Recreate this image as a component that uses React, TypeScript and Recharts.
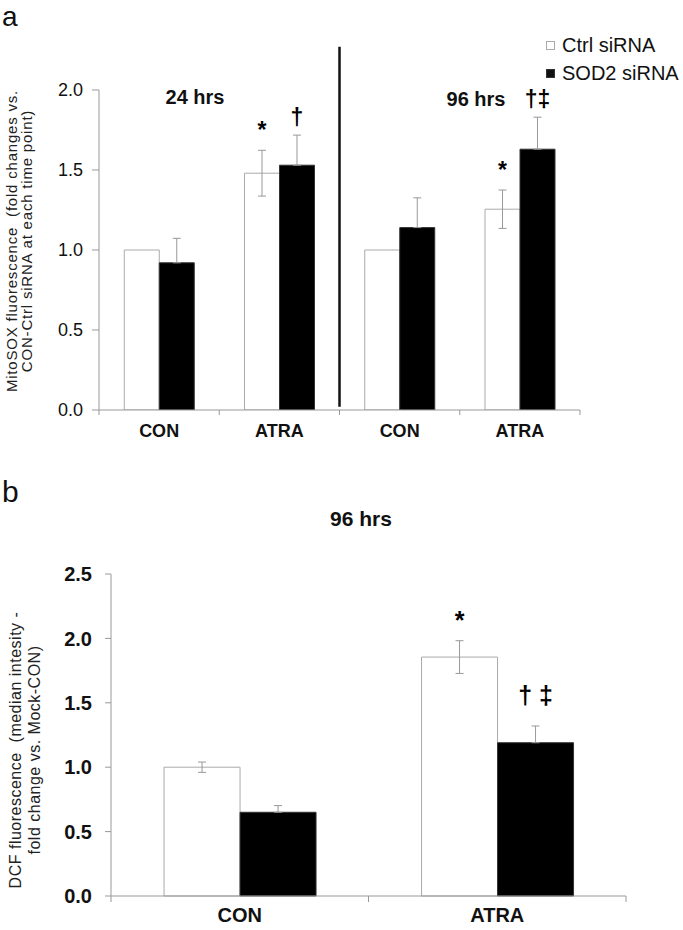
import React from 'react';
import { BarChart, Bar, XAxis, YAxis, ErrorBar, Legend, ReferenceLine, LabelList } from 'recharts';

const FONT = '"Liberation Sans", Arial, Helvetica, sans-serif';

// ---------- Panel a data ----------
const catIdsA = ['CON-24', 'ATRA-24', 'CON-96', 'ATRA-96'];
const catLabelsA = ['CON', 'ATRA', 'CON', 'ATRA'];
const ctrlA = [1.0, 1.48, 1.0, 1.255];
const ctrlErrA = [0, 0.143, 0, 0.12];
const sodA = [0.92, 1.53, 1.14, 1.63];
const sodErrA = [0.153, 0.188, 0.186, 0.2];
const ctrlSigA = ['', '*', '', '*'];
const sodSigA = ['', '†', '', '†‡'];
const ticksA = [0, 0.5, 1.0, 1.5, 2.0];

// ---------- Panel b data ----------
const catIdsB = ['CON', 'ATRA'];
const catLabelsB = ['CON', 'ATRA'];
const ctrlB = [1.0, 1.855];
const ctrlErrB = [0.04, 0.127];
const sodB = [0.65, 1.19];
const sodErrB = [0.052, 0.13];
const ctrlSigB = ['', '*'];
const sodSigB = ['', '† ‡'];
const ticksB = [0, 0.5, 1.0, 1.5, 2.0, 2.5];

const seriesNames = ['Ctrl siRNA', 'SOD2 siRNA'];

const buildData = (ids: string[], c: number[], ce: number[], s: number[], se: number[], cs: string[], ss: string[]) =>
  ids.map((id, i) => ({
    id,
    ctrl: c[i],
    ctrlErr: ce[i],
    sod: s[i],
    sodErr: [0, se[i]],
    ctrlSig: cs[i],
    sodSig: ss[i],
  }));

const dataA = buildData(catIdsA, ctrlA, ctrlErrA, sodA, sodErrA, ctrlSigA, sodSigA);
const dataB = buildData(catIdsB, ctrlB, ctrlErrB, sodB, sodErrB, ctrlSigB, sodSigB);

const makeSig = (values: number[], errs: number[], fontSize: number, gap: number) => (props: any) => {
  const { x, y, width, height, value, index } = props;
  if (!value) return null;
  const v = values[index];
  const ppu = v ? height / v : 0;
  const top = y - errs[index] * ppu;
  return (
    <text
      x={x + width / 2}
      y={top - gap}
      textAnchor="middle"
      fontSize={fontSize}
      fontWeight="bold"
      fontFamily={FONT}
      fill="#000"
      style={{ whiteSpace: 'pre' }}
    >
      {value}
    </text>
  );
};

const makeCatTick = (labels: string[], fontSize: number, margin: number, tickLen: number, count: number) => (props: any) => {
  const { x, y, payload, index, width } = props;
  const half = payload && payload.offset ? payload.offset : width / count / 2;
  const ay = y - margin;
  return (
    <g>
      <line x1={x - half} x2={x - half} y1={ay} y2={ay + tickLen} stroke="#999" />
      {index === count - 1 && <line x1={x + half} x2={x + half} y1={ay} y2={ay + tickLen} stroke="#999" />}
      <text x={x} y={y} dy="0.71em" textAnchor="middle" fontSize={fontSize} fontWeight="bold" fontFamily={FONT} fill="#111">
        {labels[index]}
      </text>
    </g>
  );
};

const LegendContent = (props: any) => {
  const payload = props.payload || [];
  return (
    <div style={{ fontFamily: FONT, fontSize: 20, color: '#111' }}>
      {payload.map((e: any, i: number) => {
        const fill = (e.payload && e.payload.fill) || e.color;
        const isWhite = fill === '#ffffff' || fill === '#fff';
        return (
          <div key={i} style={{ display: 'flex', alignItems: 'center', height: 28, whiteSpace: 'nowrap' }}>
            <span
              style={{
                display: 'inline-block',
                width: 7,
                height: 7,
                background: isWhite ? '#fff' : '#111',
                border: isWhite ? '1px solid #aaa' : '1px solid #333',
                marginRight: 7,
              }}
            />
            <span>{e.value}</span>
          </div>
        );
      })}
    </div>
  );
};

const fmt = (v: number) => v.toFixed(1);

export default function App() {
  return (
    <div style={{ position: 'absolute', left: 0, top: 0, width: 683, height: 930, background: '#fff', overflow: 'hidden' }}>
      {/* Panel a */}
      <div style={{ position: 'absolute', left: 0, top: 0 }}>
        <BarChart
          width={683}
          height={460}
          data={dataA}
          margin={{ top: 90, right: 103, bottom: 20, left: 0 }}
          barCategoryGap="21%"
          barGap={0}
        >
          <XAxis
            dataKey="id"
            type="category"
            height={30}
            axisLine={{ stroke: '#999' }}
            tickLine={false}
            tickSize={0}
            tickMargin={14}
            interval={0}
            tick={makeCatTick(catLabelsA, 18, 14, 5, catIdsA.length)}
          />
          <YAxis
            width={99}
            domain={[0, 2]}
            ticks={ticksA}
            tickFormatter={fmt}
            axisLine={{ stroke: '#999' }}
            tickLine={{ stroke: '#999' }}
            tickSize={7}
            tickMargin={9}
            tick={{ fontSize: 18, fill: '#111', fontFamily: FONT }}
            allowDataOverflow
          />
          <ReferenceLine
            segment={[{ x: 'CON-96', y: 0.02 }, { x: 'CON-96', y: 2.27 }]}
            position="start"
            ifOverflow="visible"
            stroke="#111"
            strokeWidth={2.5}
          />
          <Legend
            layout="vertical"
            align="center"
            verticalAlign="middle"
            content={LegendContent}
            wrapperStyle={{ position: 'absolute', left: 546, top: 31, width: 140 }}
          />
          <Bar dataKey="ctrl" name={seriesNames[0]} fill="#ffffff" stroke="#aaa" strokeWidth={1} isAnimationActive={false}>
            <ErrorBar dataKey="ctrlErr" width={4} stroke="#999" strokeWidth={1} />
            <LabelList dataKey="ctrlSig" content={makeSig(ctrlA, ctrlErrA, 23, 12)} />
          </Bar>
          <Bar dataKey="sod" name={seriesNames[1]} fill="#000000" stroke="#333" strokeWidth={1} isAnimationActive={false}>
            <ErrorBar dataKey="sodErr" width={4} stroke="#999" strokeWidth={1} />
            <LabelList dataKey="sodSig" content={makeSig(sodA, sodErrA, 23, 10)} />
          </Bar>
        </BarChart>
      </div>

      {/* Panel b */}
      <div style={{ position: 'absolute', left: 0, top: 540 }}>
        <BarChart
          width={683}
          height={390}
          data={dataB}
          margin={{ top: 34, right: 57, bottom: 4, left: 0 }}
          barCategoryGap="20.6%"
          barGap={0}
        >
          <XAxis
            dataKey="id"
            type="category"
            height={30}
            axisLine={{ stroke: '#999' }}
            tickLine={false}
            tickSize={0}
            tickMargin={12}
            interval={0}
            tick={makeCatTick(catLabelsB, 20, 12, 6, catIdsB.length)}
          />
          <YAxis
            width={111}
            domain={[0, 2.5]}
            ticks={ticksB}
            tickFormatter={fmt}
            axisLine={{ stroke: '#999' }}
            tickLine={{ stroke: '#999' }}
            tickSize={6}
            tickMargin={13}
            tick={{ fontSize: 20, fontWeight: 'bold', fill: '#111', fontFamily: FONT }}
          />
          <Bar dataKey="ctrl" name={seriesNames[0]} fill="#ffffff" stroke="#aaa" strokeWidth={1} isAnimationActive={false}>
            <ErrorBar dataKey="ctrlErr" width={4} stroke="#999" strokeWidth={1} />
            <LabelList dataKey="ctrlSig" content={makeSig(ctrlB, ctrlErrB, 25, 12)} />
          </Bar>
          <Bar dataKey="sod" name={seriesNames[1]} fill="#000000" stroke="#333" strokeWidth={1} isAnimationActive={false}>
            <ErrorBar dataKey="sodErr" width={4} stroke="#999" strokeWidth={1} />
            <LabelList dataKey="sodSig" content={makeSig(sodB, sodErrB, 25, 22)} />
          </Bar>
        </BarChart>
      </div>

      {/* Text overlay */}
      <svg width={683} height={930} style={{ position: 'absolute', left: 0, top: 0, pointerEvents: 'none' }}>
        <text x={2} y={26} fontSize={28} fontFamily={FONT} fill="#111">a</text>
        <text x={2} y={502} fontSize={30} fontFamily={FONT} fill="#111">b</text>
        <text x={195} y={104} textAnchor="middle" fontSize={20} fontWeight="bold" fontFamily={FONT} fill="#111">24 hrs</text>
        <text x={476} y={106} textAnchor="middle" fontSize={20} fontWeight="bold" fontFamily={FONT} fill="#111">96 hrs</text>
        <text x={361} y={526} textAnchor="middle" fontSize={21} fontWeight="bold" fontFamily={FONT} fill="#111">96 hrs</text>
        <g transform="translate(11,241) rotate(-90)">
          <text x={0} y={0} textAnchor="middle" dominantBaseline="central" fontSize={15} letterSpacing={0.8} fontFamily={FONT} fill="#222" style={{ whiteSpace: 'pre' }}>
            MitoSOX fluorescence  (fold changes vs.
          </text>
        </g>
        <g transform="translate(26,241) rotate(-90)">
          <text x={0} y={0} textAnchor="middle" dominantBaseline="central" fontSize={15} letterSpacing={0.8} fontFamily={FONT} fill="#222" style={{ whiteSpace: 'pre' }}>
            CON-Ctrl siRNA at each time point)
          </text>
        </g>
        <g transform="translate(15,750) rotate(-90)">
          <text x={0} y={0} textAnchor="middle" dominantBaseline="central" fontSize={16} letterSpacing={0.5} fontFamily={FONT} fill="#222" style={{ whiteSpace: 'pre' }}>
            DCF fluorescence  (median intesity -
          </text>
        </g>
        <g transform="translate(34,750) rotate(-90)">
          <text x={0} y={0} textAnchor="middle" dominantBaseline="central" fontSize={16} letterSpacing={0.5} fontFamily={FONT} fill="#222" style={{ whiteSpace: 'pre' }}>
            fold change vs. Mock-CON)
          </text>
        </g>
      </svg>
    </div>
  );
}
